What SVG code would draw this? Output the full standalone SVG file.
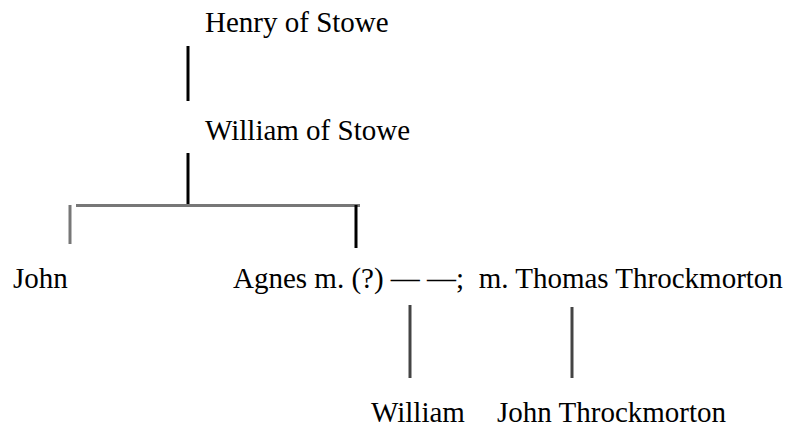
<svg xmlns="http://www.w3.org/2000/svg" width="788" height="432" viewBox="0 0 788 432">
<style>
text{font-family:"Liberation Serif","Times New Roman",serif;font-size:29px;fill:#000}
.k{stroke:#000;stroke-width:3;fill:none}
.g{stroke:#777;stroke-width:3;fill:none}
.d{stroke:#444;stroke-width:3;fill:none}
</style>
<rect width="788" height="432" fill="#fff"/>
<g id="connectors">
<line class="k" x1="188" y1="46" x2="188" y2="101"/>
<line class="k" x1="188" y1="153" x2="188" y2="205"/>
<line class="g" x1="76" y1="205.5" x2="360" y2="205.5"/>
<line class="g" x1="70" y1="205" x2="70" y2="244"/>
<line class="k" x1="356" y1="205" x2="356" y2="248"/>
<line class="d" x1="410" y1="305" x2="410" y2="378"/>
<line class="d" x1="572" y1="307" x2="572" y2="378"/>
</g>
<g id="henry"><text x="205" y="32">Henry of Stowe</text></g>
<g id="william-stowe"><text x="205" y="140">William of Stowe</text></g>
<g id="john"><text x="13" y="288">John</text></g>
<g id="agnes"><text x="233" y="288" xml:space="preserve">Agnes m. (?) — —;  m. Thomas Throckmorton</text></g>
<g id="william"><text x="371" y="422">William</text></g>
<g id="john-throckmorton"><text x="497" y="422">John Throckmorton</text></g>
</svg>
